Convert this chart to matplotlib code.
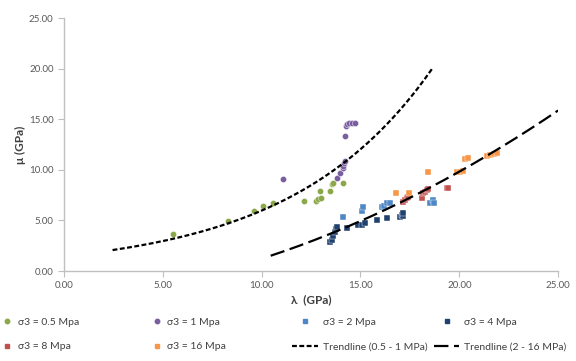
import numpy as np
import matplotlib
matplotlib.use("Agg")
import matplotlib.pyplot as plt
from matplotlib.lines import Line2D

plt.rcParams['font.family'] = ['Lato', 'DejaVu Sans']

# ---------------------------------------------------------------- data
lam_05 = [5.50, 8.32, 9.62, 10.09, 10.59, 12.15, 12.74, 12.87, 12.99, 12.96, 13.46, 13.55, 13.63, 14.14]
mu_05 = [3.63, 4.95, 5.94, 6.44, 6.70, 6.96, 6.96, 7.10, 7.20, 7.92, 7.92, 8.61, 8.68, 8.74]

lam_1 = [11.10, 13.80, 13.97, 14.10, 14.14, 14.19, 14.21, 14.20, 14.27, 14.31, 14.44, 14.57, 14.71]
mu_1 = [9.11, 9.18, 9.67, 10.17, 10.40, 10.66, 10.89, 13.38, 14.32, 14.52, 14.62, 14.62, 14.62]

lam_2 = [14.12, 15.10, 15.13, 16.08, 16.20, 16.33, 16.50, 18.52, 18.69, 18.74]
mu_2 = [5.38, 5.91, 6.33, 6.37, 6.45, 6.70, 6.76, 6.70, 7.03, 6.72]

lam_4 = [13.46, 13.54, 13.63, 13.71, 13.77, 13.80, 14.33, 14.90, 15.06, 15.23,
         15.86, 16.35, 17.00, 17.09, 17.14, 17.17]
mu_4 = [2.90, 3.07, 3.50, 3.85, 4.13, 4.33, 4.23, 4.55, 4.60, 4.75,
        5.05, 5.27, 5.38, 5.54, 5.45, 5.71]

lam_8 = [17.17, 17.26, 17.34, 17.42, 18.10, 18.18, 18.27, 18.35, 18.44, 19.37, 19.45]
mu_8 = [6.86, 7.03, 7.20, 7.36, 7.20, 7.69, 7.85, 8.02, 8.09, 8.19, 8.19]

lam_16 = [16.80, 17.47, 18.44, 19.87, 20.04, 20.21, 20.31, 20.46, 21.40, 21.56, 21.73, 21.90]
mu_16 = [7.69, 7.72, 9.77, 9.83, 9.83, 9.90, 11.12, 11.16, 11.39, 11.49, 11.55, 11.65]

# trendline 0.5 - 1 MPa: exponential  mu = a * exp(b * lam)
trend1_range = (2.46, 18.66)
trend1_a, trend1_b = 1.474, 0.140
# trendline 2 - 16 MPa: 2nd order polynomial
trend2_range = (10.46, 25.0)
trend2_coef = [0.02327, 0.1618, -2.718]

series = [
    ("σ3 = 0.5 Mpa", lam_05, mu_05, 'o', '#8aa84a'),
    ("σ3 = 8 Mpa", lam_8, mu_8, 's', '#c0504d'),
    ("σ3 = 1 Mpa", lam_1, mu_1, 'o', '#7a5fa0'),
    ("σ3 = 16 Mpa", lam_16, mu_16, 's', '#f79646'),
    ("σ3 = 2 Mpa", lam_2, mu_2, 's', '#4f86c6'),
    ("σ3 = 4 Mpa", lam_4, mu_4, 's', '#1f416e'),
]

# ---------------------------------------------------------------- figure
fig = plt.figure(figsize=(5.76, 3.61), dpi=100)
ax = fig.add_axes([0.111, 0.249, 0.858, 0.701])

handles = {}
for label, xs, ys, mk, col in series:
    ax.scatter(xs, ys, s=20, marker=mk, color=col, edgecolors='white',
               linewidths=0.3, zorder=3)
    handles[label] = Line2D([], [], ls='none', marker=mk, color=col, markersize=3.2)

x1 = np.linspace(*trend1_range, 200)
ax.plot(x1, trend1_a * np.exp(trend1_b * x1), color='black', lw=1.6,
        dashes=(2.2, 1.1), zorder=4)
x2 = np.linspace(*trend2_range, 200)
ax.plot(x2, np.polyval(trend2_coef, x2), color='black', lw=1.6,
        dashes=(6.5, 2.5), zorder=4)

handles["Trendline (0.5 - 1 MPa)"] = Line2D([], [], color='black', lw=1.6, dashes=(2.2, 1.1))
handles["Trendline (2 - 16 MPa)"] = Line2D([], [], color='black', lw=1.6, dashes=(6.5, 2.5))

ax.set_xlim(0, 25)
ax.set_ylim(0, 25)
ticks = np.arange(0, 26, 5)
ax.set_xticks(ticks)
ax.set_yticks(ticks)
ax.set_xticklabels(['{:.2f}'.format(t) for t in ticks])
ax.set_yticklabels(['{:.2f}'.format(t) for t in ticks])
ax.tick_params(colors='#bfbfbf', labelcolor='#595959', labelsize=7, length=4, width=0.8)
ax.tick_params(axis='x', pad=3)

for side in ['top', 'right']:
    ax.spines[side].set_visible(False)
for side in ['left', 'bottom']:
    ax.spines[side].set_color('#bfbfbf')
    ax.spines[side].set_linewidth(1.0)

ax.set_xlabel('λ  (GPa)', fontsize=8.5, fontweight='bold', color='#404040', labelpad=3)
ax.set_ylabel('μ (GPa)', fontsize=8.5, fontweight='bold', color='#404040', labelpad=2)

# ---------------------------------------------------------------- legend (Excel style columns)
columns = [
    (["σ3 = 0.5 Mpa", "σ3 = 8 Mpa"], 0.0, 1.0),
    (["σ3 = 1 Mpa", "σ3 = 16 Mpa"], 0.260, 1.0),
    (["σ3 = 2 Mpa", "Trendline (0.5 - 1 MPa)"], 0.503, 2.5),
    (["σ3 = 4 Mpa", "Trendline (2 - 16 MPa)"], 0.750, 2.4),
]
for labels, x0, hl in columns:
    leg = fig.legend([handles[l] for l in labels], labels, loc='upper left',
                     bbox_to_anchor=(x0, 0.127), frameon=False, fontsize=7.5,
                     handlelength=hl, handletextpad=0.5, labelspacing=1.5,
                     borderpad=0.2, borderaxespad=0)
    for t in leg.get_texts():
        t.set_color('#404040')

fig.savefig('out.png', dpi=100)
